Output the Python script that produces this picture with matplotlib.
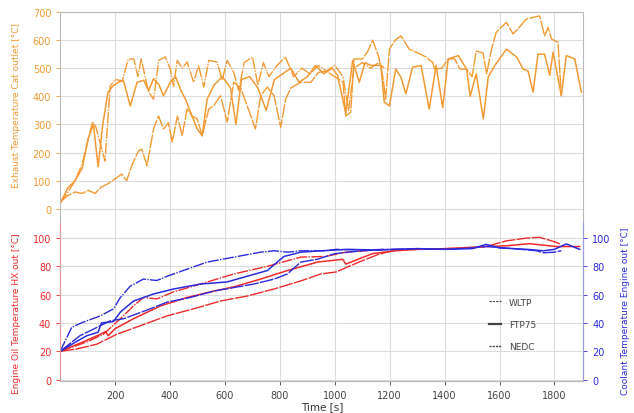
import matplotlib
matplotlib.use("Agg")
import matplotlib.pyplot as plt
from matplotlib.lines import Line2D

# colours
ORANGE = "#F29A33"
RED = "#EE2A2A"
BLUE = "#2B2BDD"
GRID = "#DCDCDC"
FRAME = "#B8B8B8"

# Exhaust temperature cat outlet [degC]
wltp_exh_t = [0, 27, 54, 80, 102, 127, 150, 175, 200, 224, 242, 260, 285, 297, 316, 340, 358, 376, 394,
              408, 427, 444, 462, 480, 499, 517, 541, 558, 584, 608, 632, 657, 681, 711, 730, 754, 779,
              803, 821, 840, 876, 913, 940, 969, 1006, 1030, 1040, 1058, 1070, 1101, 1120, 1138, 1160,
              1175, 1185, 1199, 1220, 1241, 1271, 1296, 1332, 1357, 1363, 1390, 1413, 1437, 1456, 1480,
              1500, 1515, 1540, 1553, 1571, 1588, 1625, 1649, 1667, 1698, 1746, 1764, 1777, 1789, 1813, 1825]
wltp_exh = [25, 47, 60, 55, 66, 55, 78, 90, 107, 124, 100, 153, 206, 213, 153, 284, 330, 284, 306,
            238, 330, 260, 355, 330, 320, 260, 355, 366, 402, 309, 450, 430, 366, 284, 402, 433, 402,
            290, 390, 430, 450, 450, 485, 490, 466, 450, 330, 344, 533, 533, 560, 600, 540,
            470, 390, 568, 600, 615, 568, 557, 540, 520, 497, 500, 533, 533, 497, 497,
            470, 561, 554, 480, 568, 628, 663, 622, 640, 675, 686, 615, 645, 604, 592, 402]

ftp_exh_t = [0, 28, 54, 80, 102, 121, 138, 155, 174, 192, 212, 230, 255, 280, 304, 322, 340, 360, 376,
             401, 420, 440, 456, 480, 499, 517, 535, 560, 590, 620, 640, 660, 690, 720, 750, 780, 810,
             840, 870, 900, 930, 960, 990, 1010, 1040, 1065, 1089, 1110, 1131, 1168, 1180, 1199, 1222,
             1241, 1259, 1283, 1314, 1344, 1369, 1393, 1413, 1450, 1480, 1493, 1515, 1541, 1559, 1583,
             1625, 1662, 1686, 1704, 1722, 1740, 1764, 1783, 1795, 1825, 1843, 1874, 1898]
ftp_exh = [20, 75, 100, 145, 250, 300, 150, 300, 415, 437, 450, 457, 366, 450, 457, 420, 463, 440, 402,
           450, 470, 420, 390, 330, 284, 260, 390, 440, 470, 430, 300, 460, 470, 430, 350, 460, 480,
           500, 450, 470, 510, 480, 500, 475, 340, 527, 450, 520, 510, 510, 380, 366, 497,
           468, 409, 503, 510, 355, 510, 360, 533, 545, 497, 400, 480, 320, 470, 510,
           568, 540, 497, 490, 415, 550, 550, 475, 557, 402, 545, 533, 415]

nedc_exh_t = [0, 28, 54, 80, 100, 118, 130, 163, 182, 200, 226, 248, 268, 283, 295, 322, 340, 359, 383,
              401, 413, 426, 444, 462, 486, 504, 523, 541, 571, 590, 608, 632, 650, 670, 700, 720, 740,
              760, 790, 820, 850, 880, 910, 940, 970, 1000, 1030, 1050, 1070, 1100, 1130, 1160, 1180]
nedc_exh = [20, 60, 100, 160, 240, 310, 290, 170, 437, 460, 455, 533, 533, 470, 533, 415, 390, 528, 540,
            497, 436, 528, 500, 522, 450, 510, 433, 528, 522, 458, 528, 485, 420, 520, 540, 440, 520,
            470, 510, 540, 470, 500, 480, 510, 490, 510, 470, 350, 500, 520, 500, 520, 500]

# Engine oil temperature HX out [degC]
wltp_oil_t = [0, 60, 133, 206, 291, 389, 486, 584, 681, 779, 876, 949, 1004, 1088, 1161, 1222, 1300,
              1405, 1500, 1551, 1625, 1700, 1745, 1790, 1825]
wltp_oil = [20, 21.6, 25, 32, 38, 45, 50, 55.5, 59, 64, 69.7, 74.6, 76, 83, 88.6, 91.5, 92,
            92.5, 93, 94, 98, 100, 100.5, 98, 95.5]
ftp_oil_t = [0, 83, 146, 165, 175, 200, 267, 365, 462, 559, 632, 730, 827, 937, 1029, 1040, 1138,
             1222, 1300, 1405, 1551, 1625, 1709, 1806, 1892]
ftp_oil = [20, 26.6, 32, 34, 31, 36, 43, 52, 58, 62.5, 65.5, 71, 77, 83, 85, 81.6, 89,
           91, 92, 92.5, 94, 94.5, 96, 94, 94]
nedc_oil_t = [0, 97, 157, 219, 267, 303, 352, 413, 511, 632, 754, 876, 967, 1040, 1180]
nedc_oil = [20, 26.6, 32, 43, 52, 58, 57, 62, 67.5, 74.6, 80, 86.5, 87, 90, 92]

# Coolant temperature engine out [degC]
wltp_cool_t = [0, 72, 146, 182, 231, 328, 389, 474, 559, 632, 705, 779, 827, 876, 937, 1000, 1100,
               1200, 1300, 1400, 1500, 1551, 1650, 1735, 1760, 1800, 1825]
wltp_cool = [20, 31, 38, 41.5, 43, 50, 54.7, 58, 62.5, 65, 67.5, 71, 74.6, 83, 85, 89, 91,
             92, 92.5, 92, 93, 94, 92.5, 91, 89.6, 90, 91]
ftp_cool_t = [0, 60, 97, 138, 150, 194, 219, 267, 340, 413, 511, 608, 681, 754, 815, 876, 950, 1050,
              1150, 1222, 1300, 1405, 1500, 1551, 1600, 1700, 1760, 1800, 1843, 1892]
ftp_cool = [20, 27, 31, 33.5, 40, 41, 47.7, 55.5, 60.5, 64, 67.5, 69, 73, 77, 87, 90, 91, 92,
            91.5, 92, 92.5, 92, 92.5, 95.5, 93, 92, 91, 92, 95.8, 92]
nedc_cool_t = [0, 42, 83, 146, 194, 219, 255, 303, 352, 389, 462, 535, 632, 730, 779, 830, 876, 967,
               1004, 1100, 1180]
nedc_cool = [20, 37, 40.5, 45, 50, 58, 66, 71, 70, 73, 78, 83, 86.5, 90, 91, 90, 91, 91,
             92, 91.5, 92]

x_ticks = [200, 400, 600, 800, 1000, 1200, 1400, 1600, 1800]
exh_ticks = [0, 100, 200, 300, 400, 500, 600, 700]
temp_ticks = [0, 20, 40, 60, 80, 100]

# line styles per cycle (data lines almost solid, as in the source)
styles = {"WLTP": dict(lw=1.0, ls=(0, (10, 1))),
          "FTP75": dict(lw=1.1, ls="-"),
          "NEDC": dict(lw=1.0, ls=(0, (8, 1, 1, 1)))}
legend_styles = {"WLTP": dict(lw=0.8, ls=(0, (2, 1))),
                 "FTP75": dict(lw=1.6, ls="-"),
                 "NEDC": dict(lw=1.0, ls=(0, (1.5, 0.8)))}

fig = plt.figure(figsize=(6.34, 4.14), dpi=100)
ax_top = fig.add_axes([0.095, 0.459, 0.825, 0.5097])
ax_bot = fig.add_axes([0.095, 0.0773, 0.825, 0.3816])
ax_right = ax_bot.twinx()

# top panel: exhaust
ax_top.plot(wltp_exh_t, wltp_exh, color=ORANGE, **styles["WLTP"])
ax_top.plot(ftp_exh_t, ftp_exh, color=ORANGE, **styles["FTP75"])
ax_top.plot(nedc_exh_t, nedc_exh, color=ORANGE, **styles["NEDC"])
ax_top.set_ylim(-50, 700)
ax_top.set_xlim(0, 1905)
ax_top.set_yticks(exh_ticks)
ax_top.set_xticks(x_ticks)
ax_top.tick_params(axis="x", length=0, labelbottom=False)
ax_top.tick_params(axis="y", colors=ORANGE, labelsize=7, length=3, width=0.6)
ax_top.grid(True, color=GRID, lw=0.8)
for side in ["top", "left", "right"]:
    ax_top.spines[side].set_color(FRAME)
ax_top.spines["bottom"].set_visible(False)
ax_top.set_ylabel("Exhaust Temperature Cat outlet [°C]", color=ORANGE, fontsize=6.5, labelpad=7)
ax_top.yaxis.set_label_coords(-0.075, 0.56)

# bottom panel: oil and coolant
ax_bot.plot(wltp_oil_t, wltp_oil, color=RED, **styles["WLTP"])
ax_bot.plot(ftp_oil_t, ftp_oil, color=RED, **styles["FTP75"])
ax_bot.plot(nedc_oil_t, nedc_oil, color=RED, **styles["NEDC"])
ax_bot.plot(wltp_cool_t, wltp_cool, color=BLUE, **styles["WLTP"])
ax_bot.plot(ftp_cool_t, ftp_cool, color=BLUE, **styles["FTP75"])
ax_bot.plot(nedc_cool_t, nedc_cool, color=BLUE, **styles["NEDC"])
for ax in (ax_bot, ax_right):
    ax.set_ylim(-1, 110.6)
    ax.set_yticks(temp_ticks)
ax_bot.set_xlim(0, 1905)
ax_bot.set_xticks(x_ticks)
ax_bot.grid(True, color=GRID, lw=0.8)
ax_bot.tick_params(axis="x", colors="#444444", labelsize=7, length=3, width=0.6)
ax_bot.tick_params(axis="y", colors=RED, labelsize=7, length=3, width=0.6)
ax_right.tick_params(axis="y", colors=BLUE, labelsize=7, length=3, width=0.6)
for ax in (ax_bot, ax_right):
    ax.spines["top"].set_visible(False)
    ax.spines["left"].set_color("#E89A9A")
    ax.spines["right"].set_color("#9A9AE8")
    ax.spines["bottom"].set_color(FRAME)
ax_bot.set_ylabel("Engine Oil Temperature HX out [°C]", color=RED, fontsize=6.5)
ax_bot.yaxis.set_label_coords(-0.075, 0.43)
ax_right.set_ylabel("Coolant Temperature Engine out [°C]", color=BLUE, fontsize=6.5)
ax_right.yaxis.set_label_coords(1.072, 0.45)
ax_bot.set_xlabel("Time [s]", color="#333333", fontsize=7.5, labelpad=1)

handles = [Line2D([], [], color="#444444", **legend_styles[k]) for k in ["WLTP", "FTP75", "NEDC"]]
ax_bot.legend(handles, ["WLTP", "FTP75", "NEDC"], loc="lower right", bbox_to_anchor=(0.925, 0.14),
              frameon=False, fontsize=6.5, handlelength=1.4, handletextpad=0.8,
              labelspacing=1.45, labelcolor="#444444")

fig.savefig("out.png", dpi=100)
